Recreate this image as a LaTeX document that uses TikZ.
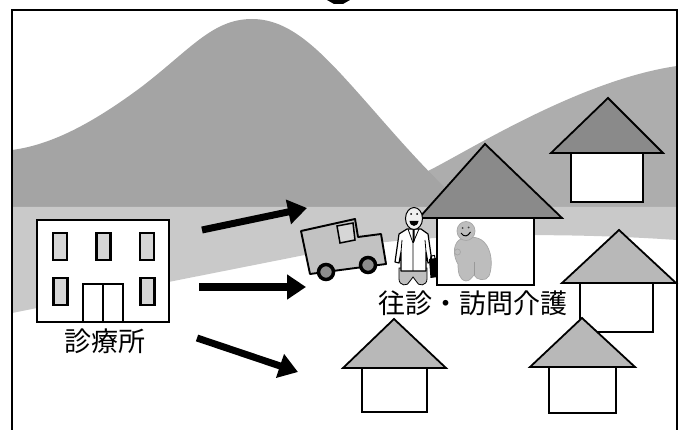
\documentclass[tikz,border=0pt]{standalone}
\usepackage{fontspec}
\newfontfamily\jp{Noto Sans CJK JP}
\usetikzlibrary{arrows.meta}
\definecolor{hillback}{gray}{0.68}
\definecolor{hillfront}{gray}{0.645}
\definecolor{ground}{gray}{0.79}
\definecolor{roofdark}{gray}{0.54}
\definecolor{roofpale}{gray}{0.72}
\definecolor{pane}{gray}{0.84}
\definecolor{vanbody}{gray}{0.76}
\definecolor{patient}{gray}{0.74}
\begin{document}
\begin{tikzpicture}[x=1pt,y=-1pt,
  outline/.style={draw=black,line width=1.8pt,line join=miter},
  housebody/.style={outline,fill=white,inner sep=0pt,minimum width=#1},
  darkroof/.style={outline,fill=roofdark},
  paleroof/.style={outline,fill=roofpale},
  window/.style={draw=black,line width=2.2pt,fill=pane,inner sep=0pt,minimum width=14pt,minimum height=27pt},
  bigarrow/.style={line width=7pt,-{Triangle[length=19pt,width=24pt]}},
  jptext/.style={font=\jp\fontsize{27}{27}\selectfont,inner sep=0pt},
]
\useasboundingbox (0,0) rectangle (685,430);

% landscape: hills and the pale ground strip
\begin{scope}
  \clip (12,10) rectangle (677,440);
  % far hill on the right
  \fill[hillback] (390,207) -- (390,190) -- (428,171)
    .. controls (470,150) and (580,80) .. (677,66) -- (677,207) -- cycle;
  % big hill
  \fill[hillfront] (12,207) -- (12,150)
    .. controls (50,145) and (90,125) .. (140,88)
    .. controls (190,50) and (212,19) .. (252,19)
    .. controls (290,19) and (320,50) .. (360,95)
    .. controls (392,131) and (420,165) .. (465,207) -- cycle;
  % ground strip
  \fill[ground] (12,207) -- (677,207) -- (677,240)
    .. controls (560,232) and (420,233) .. (330,250) -- (12,313) -- cycle;
\end{scope}

% frame
\draw[line width=2.4pt] (12,440) -- (12,10) -- (677,10) -- (677,440);
\fill (327,0) -- (350,0) -- (343,4) -- (334,4) -- cycle;

% clinic
\node[draw=black,line width=2.6pt,fill=white,inner sep=0pt,
      minimum width=132pt,minimum height=102pt] (clinic) at (103,271) {};
\node[window] (w1) at (60,246.5) {};
\node[window] (w2) at (103.5,246.5) {};
\node[window] (w3) at (147,246.5) {};
\node[window] (w4) at (60.5,291.5) {};
\node[window] (w5) at (147.5,291.5) {};
\node[draw=black,line width=1.8pt,fill=white,inner sep=0pt,
      minimum width=40pt,minimum height=38pt] (door) at (103,303) {};
\draw[line width=1.5pt] (door.north) -- (door.south);
\node[jptext] (clinicname) at (105,341) {診療所};

% arrows
\coordinate (a1s) at (202,230);
\coordinate (a1e) at (307,208);
\coordinate (a2s) at (199,287);
\coordinate (a2e) at (306,287);
\coordinate (a3s) at (197,338);
\coordinate (a3e) at (298,372);
\draw[bigarrow] (a1s) -- (a1e);
\draw[bigarrow] (a2s) -- (a2e);
\draw[bigarrow] (a3s) -- (a3e);

% houses
\draw[darkroof] (551,153) -- (608,98) -- (663,153) -- cycle;
\node[housebody=72pt,minimum height=49pt] (hur) at (607,177.5) {};

\node[housebody=97pt,minimum height=67pt] (hbig) at (485.5,251.5) {};
\draw[darkroof] (419,218) -- (485,144) -- (562,218) -- cycle;

\node[housebody=73pt,minimum height=49pt] (hmr) at (616.5,307.5) {};
\draw[paleroof] (562,283) -- (619,230) -- (676,283) -- cycle;

\node[housebody=67pt,minimum height=46pt] (hlr) at (582.5,390) {};
\draw[paleroof] (530,367) -- (582,318) -- (635,367) -- cycle;

\node[housebody=65pt,minimum height=44pt] (hlm) at (394.5,390) {};
\draw[paleroof] (343,368) -- (394,319) -- (446,368) -- cycle;

% patient inside the big house
\filldraw[fill=patient,draw=black!35,line width=0.7pt]
  (459,240) .. controls (452,246) and (454,258) .. (458,264)
  .. controls (458,272) and (459,280) .. (466,281)
  .. controls (470,281) and (472,277) .. (474,275)
  .. controls (476,280) and (486,282) .. (489,276)
  .. controls (493,266) and (492,250) .. (484,242)
  .. controls (478,236) and (468,236) .. cycle;
\filldraw[fill=patient,draw=black!35,line width=0.7pt] (466,231) ellipse [x radius=9, y radius=9.5];
\filldraw[fill=patient,draw=black!35,line width=0.7pt] (457.5,252) circle (3);
\draw[black!40,line width=0.7pt] (474,262) -- (474,275);
\fill[black!75] (462.5,228) circle (1) (468.5,227.5) circle (1);
\draw[line width=1pt] (461,233) .. controls (464,237.5) and (468,236.5) .. (470.5,232);

% doctor with bag
\filldraw[fill=black!25,line width=0.8pt]
  (399,268) -- (399,279) .. controls (399,286) and (408,287) .. (410,281)
  -- (413,277) -- (416,281) .. controls (418,287) and (427,286) .. (427,279)
  -- (427,268) -- cycle;
\filldraw[fill=white,line width=1.2pt,line join=round]
  (407,229) -- (421,229) -- (428,234) -- (432,262) -- (428,263) -- (426,252)
  -- (426,271) -- (401,271) -- (401,252) -- (399,263) -- (395,262) -- (399,234) -- cycle;
\draw[line width=0.8pt] (408,229) -- (413,243) -- (419,229) (413,243) -- (413,271)
  (401,252) -- (402,240) (426,252) -- (425,240);
\fill (412.5,230) -- (414.5,230) -- (414.5,241) -- (413.5,243) -- (412.5,241) -- cycle;
\filldraw[fill=black!6,line width=1pt] (414,218.5) ellipse [x radius=8.5, y radius=11];
\fill (411,214) circle (1) (417,214) circle (1);
\fill (409.5,221) .. controls (410.5,227.5) and (417.5,227.5) .. (418.5,221) -- cycle;
\fill (429,259) -- (436,258) -- (437.5,277) -- (430.5,278) -- cycle;
\draw[line width=1pt] (430.5,259) -- (431,256) -- (434.5,255.5) -- (435,258.5);

% van
\filldraw[fill=vanbody,line width=1.9pt,line join=round]
  (301,231) -- (355,219) -- (358,237) -- (381,234) -- (386,264) -- (310,274) -- cycle;
\filldraw[fill=pane,line width=1.5pt] (337,226) -- (353,223) -- (355,240) -- (340,243) -- cycle;
\filldraw[fill=black!45,line width=3.5pt] (326,272) circle (7.5);
\filldraw[fill=black!45,line width=3.5pt] (368,265) circle (7.5);

% caption of the home visit
\node[jptext] (visitname) at (473,303) {往診・訪問介護};
\end{tikzpicture}
\end{document}
